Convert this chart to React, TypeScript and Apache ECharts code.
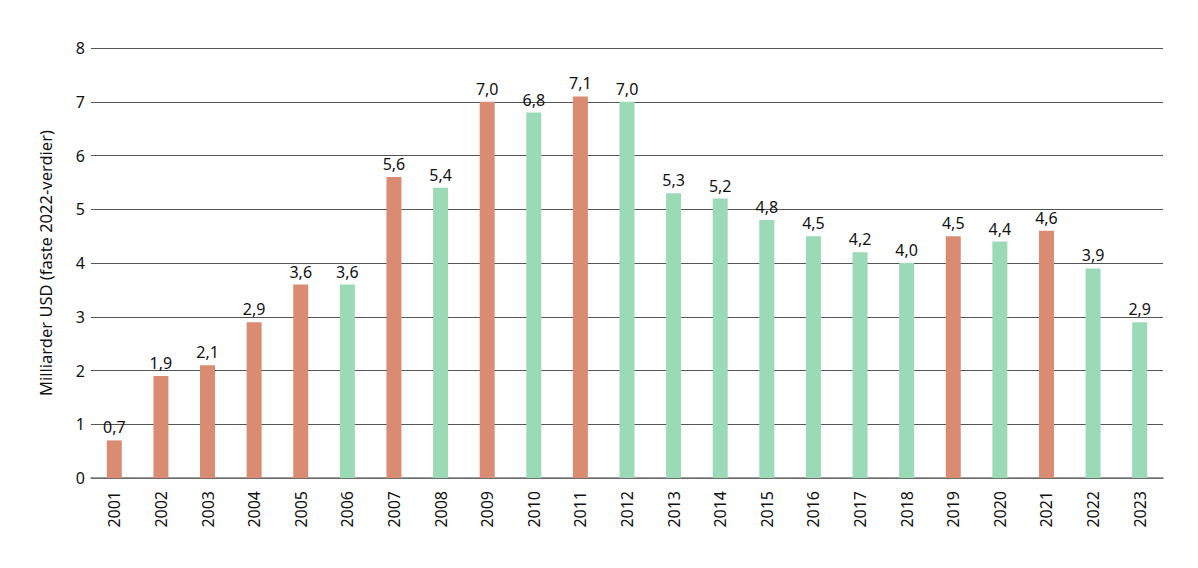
import { useEffect, useRef } from "react";
import * as echarts from "echarts";

// Årstall og verdier (milliarder USD, faste 2022-verdier)
const years = [
  "2001", "2002", "2003", "2004", "2005", "2006", "2007", "2008", "2009", "2010", "2011", "2012",
  "2013", "2014", "2015", "2016", "2017", "2018", "2019", "2020", "2021", "2022", "2023",
];
const values = [
  0.7, 1.9, 2.1, 2.9, 3.6, 3.6, 5.6, 5.4, 7.0, 6.8, 7.1, 7.0,
  5.3, 5.2, 4.8, 4.5, 4.2, 4.0, 4.5, 4.4, 4.6, 3.9, 2.9,
];
// År som vises med oransje søyle
const highlightYears = ["2001", "2002", "2003", "2004", "2005", "2007", "2009", "2011", "2019", "2021"];
const yTicks = [0, 1, 2, 3, 4, 5, 6, 7, 8];

const ORANGE = "#d98c72";
const GREEN = "#9bdab7";
const FONT = "'Noto Sans', sans-serif";

export default function App() {
  const chartRef = useRef<HTMLDivElement>(null);

  useEffect(() => {
    document.body.style.margin = "0";
    if (!chartRef.current) return;
    const chart = echarts.init(chartRef.current, undefined, { renderer: "svg" });

    const option: echarts.EChartsOption = {
      animation: false,
      backgroundColor: "#ffffff",
      textStyle: { fontFamily: FONT },
      grid: { left: 91, right: 35, top: 48, bottom: 90 },
      xAxis: {
        type: "category",
        data: years,
        axisTick: { show: false },
        axisLine: { lineStyle: { color: "#777", width: 1.5 } },
        axisLabel: {
          rotate: 90,
          color: "#111",
          fontSize: 16,
          margin: 13,
          fontFamily: FONT,
        },
      },
      yAxis: {
        type: "value",
        min: yTicks[0],
        max: yTicks[yTicks.length - 1],
        interval: 1,
        name: "Milliarder USD (faste 2022-verdier)",
        nameLocation: "middle",
        nameGap: 37,
        nameTextStyle: { fontSize: 16.5, color: "#111", fontFamily: FONT },
        axisLine: { show: false },
        axisTick: { show: false },
        axisLabel: { color: "#111", fontSize: 16, margin: 6, fontFamily: FONT },
        splitLine: { lineStyle: { color: "#555", width: 1 } },
      },
      series: [
        {
          type: "bar",
          barWidth: 15,
          data: values.map((v, i) => ({
            value: v,
            itemStyle: { color: highlightYears.includes(years[i]) ? ORANGE : GREEN },
          })),
          label: {
            show: true,
            position: "top",
            distance: 5,
            color: "#111",
            fontSize: 16,
            fontFamily: FONT,
            formatter: (p: any) => Number(p.value).toFixed(1).replace(".", ","),
          },
        },
      ],
    };

    chart.setOption(option);
    return () => {
      chart.dispose();
    };
  }, []);

  return <div ref={chartRef} style={{ width: 1198, height: 568 }} />;
}
